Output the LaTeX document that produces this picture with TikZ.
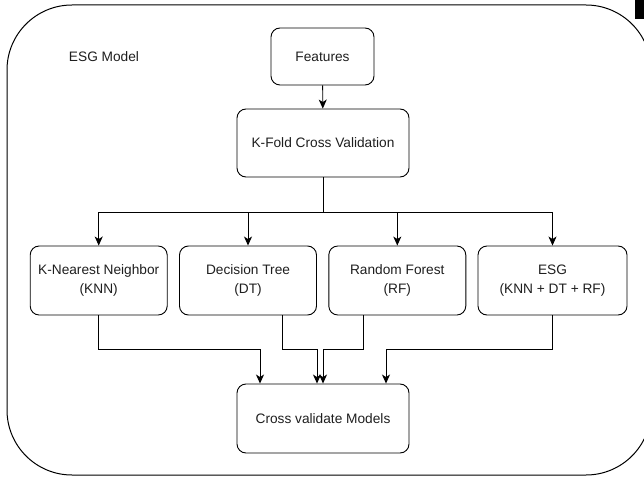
\documentclass[tikz,border=0pt]{standalone}
\usepackage{fontspec}
\setmainfont{Liberation Sans}
\usetikzlibrary{arrows.meta}
\definecolor{txtgray}{HTML}{1E1E1E}
\tikzset{
        box/.style={draw, line width=0.9pt, rounded corners=9pt, align=center,
                text=txtgray, font=\fontsize{13.7}{18.3}\selectfont},
        arr/.style={line width=0.9pt, -{Stealth[length=9pt,width=8pt,inset=2.5pt]}}
}
\begin{document}
\begin{tikzpicture}[x=1pt, y=-1pt]
        \useasboundingbox (0,0) rectangle (644,478);
        \clip (0,0) rectangle (644,478);
        % outer frame
        \draw[line width=1pt, rounded corners=65pt] (7,5) rectangle (651,475);
        \fill[black] (635,0) rectangle (644,19);
        \node[text=txtgray, font=\fontsize{13.7}{18.3}\selectfont] (title) at (104,57) {ESG Model};

        \node[box, minimum width=103pt, minimum height=57pt] (feat) at (322.5,56.5) {Features};
        \node[box, minimum width=172pt, minimum height=68pt] (kfold) at (323,143) {K-Fold Cross Validation};
        \foreach \n/\x/\w/\t in {knn/98.7/137/K-Nearest Neighbor\\(KNN), dt/248/137/Decision Tree\\(DT),
                rf/397.3/137/Random Forest\\(RF), esg/552.5/149/ESG\\(KNN + DT + RF)} {
                \node[box, minimum width=\w pt, minimum height=69pt] (\n) at (\x,280.5) {\t};
            }
        \node[box, minimum width=172pt, minimum height=69pt] (cv) at (323,418.5) {Cross validate Models};

        \draw[arr] (feat) -- (kfold);
        \draw[line width=0.9pt] (kfold.south) -- ++(0,35) coordinate (split);
        \foreach \n in {knn, dt, rf, esg} {
                \draw[arr] (split) -| (\n.north);
            }
        \draw[arr] (knn.south) -- ++(0,34) -| ([xshift=-63pt]cv.north);
        \draw[arr] ([xshift=34.5pt]dt.south) -- ++(0,34) -| ([xshift=-6pt]cv.north);
        \draw[arr] ([xshift=-34pt]rf.south) -- ++(0,34) -| (cv.north);
        \draw[arr] (esg.south) -- ++(0,34) -| ([xshift=63pt]cv.north);
    \end{tikzpicture}
\end{document}
